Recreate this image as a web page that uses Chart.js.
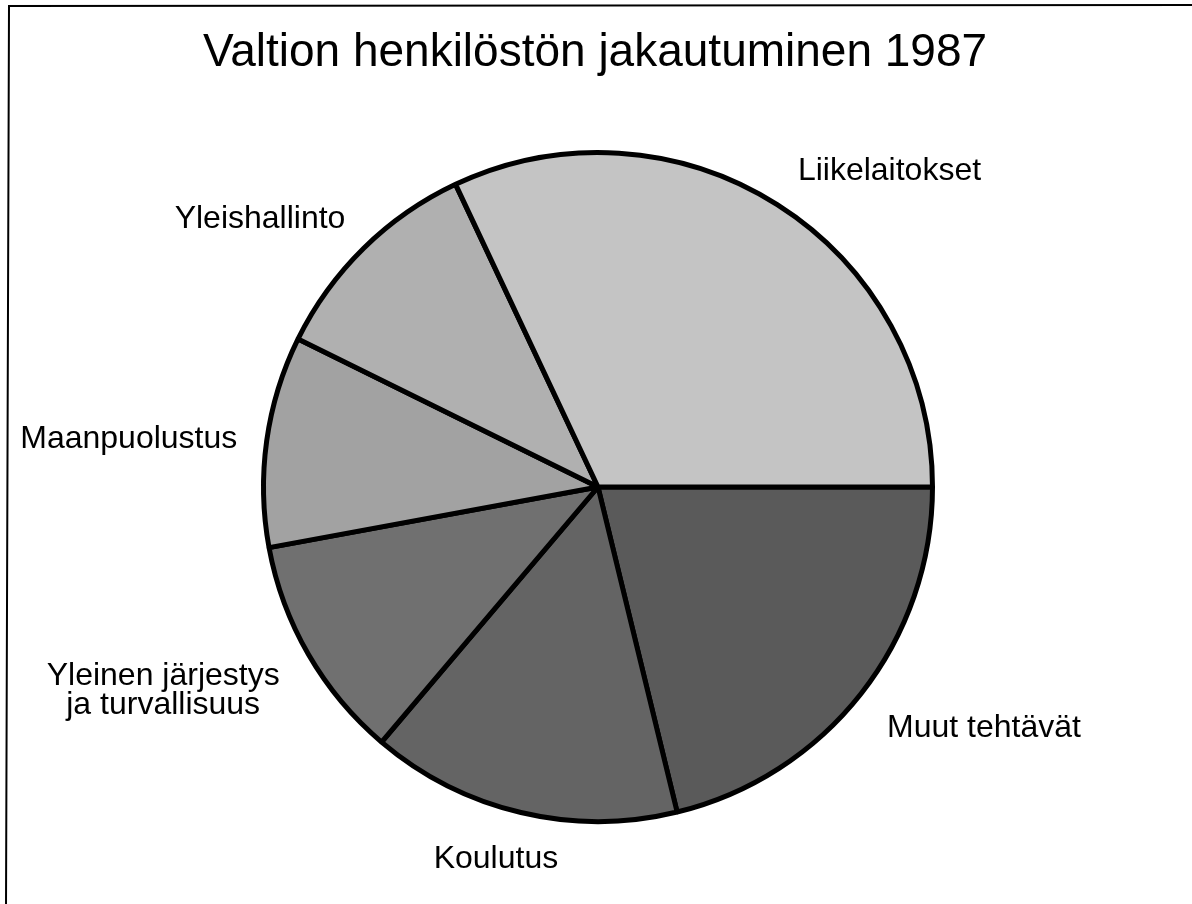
<!DOCTYPE html>
<html>
<head>
<meta charset="utf-8">
<style>
  html, body { margin: 0; padding: 0; background: #ffffff; }
  #wrap { width: 1192px; height: 904px; position: relative; }
  canvas { display: block; }
</style>
<script src="https://cdn.jsdelivr.net/npm/chart.js@4.4.0/dist/chart.umd.min.js"></script>
</head>
<body>
<div id="wrap"><canvas id="c" width="1192" height="904"></canvas></div>
<script>
// ---- data (clockwise from 3 o'clock) ----
const titleText = 'Valtion henkilöstön jakautuminen 1987';
const categories = [
  'Muut tehtävät',
  'Koulutus',
  ['Yleinen järjestys', 'ja turvallisuus'],
  'Maanpuolustus',
  'Yleishallinto',
  'Liikelaitokset'
];
const shares = [21.2, 15.0, 10.9, 10.2, 10.7, 32.0];
const sliceColors = ['#5a5a5a', '#646464', '#707070', '#a2a2a2', '#b0b0b0', '#c4c4c4'];

// label placement relative to each slice (angle shift in degrees, distance in radii)
const labelAngleShift = [-6.2, 2.0, 5.0, -2.1, -7.1, 10.3];
const labelRadiusFactor = [1.36, 1.155, 1.435, 1.41, 1.29, 1.285];

const FONT = '"Liberation Sans", Arial, Helvetica, sans-serif';

const decorPlugin = {
  id: 'decor',
  beforeDraw(chart) {
    const ctx = chart.ctx;
    ctx.save();
    ctx.fillStyle = '#ffffff';
    ctx.fillRect(0, 0, chart.width, chart.height);
    ctx.strokeStyle = '#000000';
    ctx.lineWidth = 2;
    ctx.beginPath();
    ctx.moveTo(6, chart.height);
    ctx.lineTo(9, 6);
    ctx.lineTo(chart.width, 5);
    ctx.stroke();
    ctx.restore();
  },
  afterDraw(chart) {
    const ctx = chart.ctx;
    ctx.save();
    ctx.fillStyle = '#000000';
    // title
    ctx.font = '46px ' + FONT;
    ctx.textAlign = 'center';
    ctx.textBaseline = 'alphabetic';
    ctx.fillText(titleText, 595, 66);
    // slice labels
    const meta = chart.getDatasetMeta(0);
    ctx.font = '32px ' + FONT;
    ctx.textBaseline = 'middle';
    meta.data.forEach((arc, i) => {
      const p = arc.getProps(['x', 'y', 'startAngle', 'endAngle', 'outerRadius'], true);
      const mid = (p.startAngle + p.endAngle) / 2 + labelAngleShift[i] * Math.PI / 180;
      const r = p.outerRadius * labelRadiusFactor[i];
      const lx = p.x + Math.cos(mid) * r;
      const ly = p.y + Math.sin(mid) * r;
      const lines = Array.isArray(categories[i]) ? categories[i] : [categories[i]];
      const lh = 29;
      const y0 = ly - (lines.length - 1) * lh / 2;
      lines.forEach((t, k) => ctx.fillText(t, lx, y0 + k * lh));
    });
    ctx.restore();
  }
};

new Chart(document.getElementById('c'), {
  type: 'pie',
  data: {
    labels: categories,
    datasets: [{
      data: shares,
      backgroundColor: sliceColors,
      borderColor: '#000000',
      borderWidth: 5,
      hoverOffset: 0
    }]
  },
  options: {
    responsive: false,
    devicePixelRatio: 1,
    animation: false,
    events: [],
    rotation: 90,
    layout: { padding: { top: 150, bottom: 80, left: 200, right: 196 } },
    plugins: {
      legend: { display: false },
      tooltip: { enabled: false },
      title: { display: false }
    }
  },
  plugins: [decorPlugin]
});
</script>
</body>
</html>
